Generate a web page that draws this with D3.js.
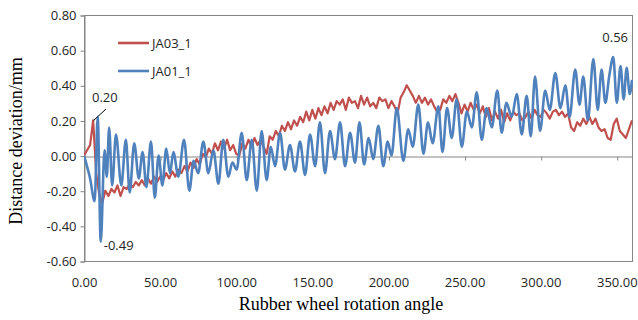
<!DOCTYPE html>
<html>
<head>
<meta charset="utf-8">
<script src="https://cdn.jsdelivr.net/npm/d3@7"></script>
<style>
  body { margin: 0; background: #fff; }
  svg { display: block; }
</style>
</head>
<body>
<script>
// angle (deg) and deviation (mm)
// JA01_1 is given at its turning points, JA03_1 every 2 degrees
const blueAngles = [
  0, 4, 7, 9, 11, 13.5, 15, 16.5, 18.5, 21, 24.5, 27.5, 30, 33, 36, 38.5, 41, 44, 46.5, 49,
  51.5, 54, 56.5, 58.7, 62, 65.7, 69.2, 72, 75, 78.4, 81.7, 85, 88.3, 91.5, 94.8, 97.5, 100.3, 103.6, 106.9, 110.2,
  113.5, 116.7, 120, 122.7, 125.5, 128.8, 132, 135.3, 138.6, 141.9, 145.2, 148.5, 151.8, 155, 158.3, 161.6, 164.9, 168.2, 171.5, 174.8,
  178, 181, 184, 187, 190, 193.4, 196.6, 199.5, 202, 205.5, 209.8, 213, 216, 219.6, 223, 226, 229, 232.8, 235.5, 238.5,
  241.6, 244.8, 248.2, 251.5, 254.8, 258, 261.3, 264.5, 267.9, 271.5, 274.4, 277.5, 281, 284.3, 287.6, 290.8, 293.5, 296.3, 299.6, 303,
  306, 309.6, 313, 316.2, 319, 322.7, 325.5, 328, 331, 334.6, 337.5, 340, 342.5, 345, 347.7, 350, 352.5, 354.5, 356.5, 358.5,
  360
];
const blueValues = [
  0.00, -0.13, -0.26, 0.22, -0.49, 0.03, -0.12, 0.16, -0.17, 0.12, -0.17, 0.09, -0.21, 0.07, -0.13, 0.02, -0.18, 0.08, -0.24, 0.00,
  -0.17, 0.04, -0.10, 0.02, -0.12, 0.09, -0.20, -0.03, -0.10, 0.08, -0.10, 0.03, -0.16, 0.09, -0.12, -0.04, -0.08, 0.13, -0.14, 0.09,
  -0.20, 0.14, -0.14, 0.05, -0.06, 0.13, -0.08, 0.06, -0.09, 0.08, -0.11, 0.12, -0.06, 0.19, -0.10, 0.14, -0.02, 0.19, -0.06, 0.13,
  -0.04, 0.19, -0.05, 0.10, -0.02, 0.17, -0.06, 0.08, 0.00, 0.27, -0.03, 0.15, 0.05, 0.29, 0.01, 0.19, 0.07, 0.28, 0.02, 0.27,
  0.10, 0.32, 0.05, 0.25, 0.16, 0.36, 0.09, 0.27, 0.16, 0.37, 0.13, 0.30, 0.22, 0.35, 0.12, 0.34, 0.11, 0.45, 0.14, 0.37,
  0.26, 0.47, 0.27, 0.40, 0.22, 0.49, 0.29, 0.45, 0.20, 0.55, 0.26, 0.49, 0.30, 0.45, 0.56, 0.30, 0.51, 0.32, 0.50, 0.35,
  0.43
];
const redAngles = [
  0, 2, 4, 6, 8, 10, 12, 14, 16, 18, 20, 22, 24, 26, 28, 30, 32, 34, 36, 38,
  40, 42, 44, 46, 48, 50, 52, 54, 56, 58, 60, 62, 64, 66, 68, 70, 72, 74, 76, 78,
  80, 82, 84, 86, 88, 90, 92, 94, 96, 98, 100, 102, 104, 106, 108, 110, 112, 114, 116, 118,
  120, 122, 124, 126, 128, 130, 132, 134, 136, 138, 140, 142, 144, 146, 148, 150, 152, 154, 156, 158,
  160, 162, 164, 166, 168, 170, 172, 174, 176, 178, 180, 182, 184, 186, 188, 190, 192, 194, 196, 198,
  200, 202, 204, 206, 208, 210, 212, 214, 216, 218, 220, 222, 224, 226, 228, 230, 232, 234, 236, 238,
  240, 242, 244, 246, 248, 250, 252, 254, 256, 258, 260, 262, 264, 266, 268, 270, 272, 274, 276, 278,
  280, 282, 284, 286, 288, 290, 292, 294, 296, 298, 300, 302, 304, 306, 308, 310, 312, 314, 316, 318,
  320, 322, 324, 326, 328, 330, 332, 334, 336, 338, 340, 342, 344, 346, 348, 350, 352, 354, 356, 358,
  360
];
const redValues = [
  0.00, 0.03, 0.06, 0.20, -0.10, -0.22, -0.27, -0.20, -0.23, -0.19, -0.21, -0.17, -0.23, -0.18, -0.19, -0.16, -0.18, -0.15, -0.17, -0.14,
  -0.17, -0.13, -0.16, -0.12, -0.15, -0.12, -0.14, -0.10, -0.13, -0.09, -0.12, -0.08, -0.10, -0.06, -0.09, -0.04, -0.07, -0.02, -0.05, 0.01,
  -0.01, 0.04, 0.01, 0.07, 0.03, 0.08, 0.04, 0.09, 0.03, 0.06, 0.01, 0.00, 0.07, 0.04, 0.09, 0.05, 0.10, 0.06, 0.09, 0.05,
  0.01, 0.11, 0.09, 0.14, 0.11, 0.17, 0.14, 0.19, 0.15, 0.20, 0.17, 0.22, 0.19, 0.25, 0.20, 0.26, 0.21, 0.27, 0.23, 0.28,
  0.24, 0.30, 0.26, 0.31, 0.29, 0.32, 0.26, 0.33, 0.30, 0.31, 0.27, 0.34, 0.29, 0.33, 0.28, 0.30, 0.27, 0.33, 0.31, 0.32,
  0.27, 0.31, 0.28, 0.24, 0.33, 0.36, 0.40, 0.37, 0.34, 0.30, 0.34, 0.30, 0.33, 0.29, 0.32, 0.28, 0.25, 0.26, 0.32, 0.30,
  0.34, 0.31, 0.35, 0.30, 0.24, 0.29, 0.25, 0.30, 0.26, 0.29, 0.24, 0.28, 0.22, 0.27, 0.20, 0.25, 0.21, 0.26, 0.19, 0.24,
  0.20, 0.25, 0.23, 0.24, 0.20, 0.22, 0.25, 0.21, 0.26, 0.23, 0.22, 0.26, 0.24, 0.21, 0.25, 0.26, 0.23, 0.25, 0.22, 0.24,
  0.16, 0.14, 0.19, 0.17, 0.21, 0.18, 0.22, 0.18, 0.21, 0.16, 0.14, 0.15, 0.10, 0.09, 0.18, 0.21, 0.14, 0.12, 0.10, 0.15,
  0.20
];
const seriesNames = ["JA03_1", "JA01_1"];
const xTicks = [0, 50, 100, 150, 200, 250, 300, 350];
const yTicks = [-0.6, -0.4, -0.2, 0, 0.2, 0.4, 0.6, 0.8];
// labelled points: [angle, value, text]
const callouts = [[6, 0.20, "0.20"], [11, -0.49, "-0.49"], [347.7, 0.56, "0.56"]];

var width = 638, height = 320;
var plotL = 84, plotR = 632, plotT = 15, plotB = 261;
var red = "#c0504d", blue = "#4f81bd", grey = "#868686";
var tickFont = "'Open Sans', sans-serif";

var svg = d3.select("body").append("svg")
    .attr("width", width)
    .attr("height", height);

var x = d3.scaleLinear().domain([0, 360]).range([plotL, plotR]);
var y = d3.scaleLinear().domain([-0.6, 0.8]).range([plotB, plotT]);
var fmt = d => d.toFixed(2);

// frame
svg.append("rect")
    .attr("x", plotL + 0.5).attr("y", plotT + 0.5)
    .attr("width", plotR - plotL).attr("height", plotB - plotT)
    .attr("fill", "none").attr("stroke", grey);

// y axis
var yAxis = svg.append("g")
    .attr("transform", "translate(" + (plotL + 0.5) + ",0.5)")
    .call(d3.axisLeft(y).tickValues(yTicks).tickFormat(fmt).tickSize(4).tickPadding(4));

// x labels sit under the frame
var xAxis = svg.append("g")
    .attr("transform", "translate(0," + (plotB + 0.5) + ")")
    .call(d3.axisBottom(x).tickValues(xTicks).tickFormat(fmt).tickSize(0).tickPadding(16));

// horizontal axis line at zero with its tick marks
var zeroAxis = svg.append("g")
    .attr("transform", "translate(0.5," + (Math.round(y(0)) + 0.5) + ")")
    .call(d3.axisBottom(x).tickValues(xTicks).tickFormat("").tickSize(4).tickSizeOuter(0));

[yAxis, xAxis, zeroAxis].forEach(function (g) {
    g.selectAll("path, line").attr("stroke", grey);
    g.selectAll("text")
        .attr("fill", "#262626")
        .style("font-family", tickFont)
        .style("font-size", "13px");
});
xAxis.select(".domain").remove();

svg.append("clipPath").attr("id", "plot")
    .append("rect")
    .attr("x", plotL).attr("y", plotT)
    .attr("width", plotR - plotL + 1).attr("height", plotB - plotT);

var redLine = d3.line()
    .x(function (d, i) { return x(redAngles[i]); })
    .y(function (d) { return y(d); });

var blueLine = d3.line()
    .x(function (d, i) { return x(blueAngles[i]); })
    .y(function (d) { return y(d); })
    .curve(d3.curveMonotoneX);

var lines = svg.append("g").attr("clip-path", "url(#plot)");
lines.append("path")
    .attr("d", redLine(redValues))
    .attr("fill", "none").attr("stroke", red)
    .attr("stroke-width", 2.2).attr("stroke-linejoin", "round");
lines.append("path")
    .attr("d", blueLine(blueValues))
    .attr("fill", "none").attr("stroke", blue)
    .attr("stroke-width", 2.6).attr("stroke-linejoin", "round");

// legend
var legend = svg.append("g");
[red, blue].forEach(function (c, i) {
    legend.append("line")
        .attr("x1", 118).attr("x2", 149)
        .attr("y1", 43 + i * 28).attr("y2", 43 + i * 28)
        .attr("stroke", c).attr("stroke-width", 2.6);
    legend.append("text")
        .attr("x", 152).attr("y", 48 + i * 28)
        .attr("fill", "#262626")
        .style("font-family", tickFont).style("font-size", "13px")
        .text(seriesNames[i]);
});

// data labels
var notes = svg.append("g")
    .attr("fill", "#262626")
    .style("font-family", tickFont).style("font-size", "13px");
notes.append("line")
    .attr("x1", x(callouts[0][0]) + 0.5).attr("y1", y(callouts[0][1]))
    .attr("x2", 106).attr("y2", 109)
    .attr("stroke", "#000").attr("stroke-width", 1);
notes.append("text")
    .attr("x", 92).attr("y", 102)
    .text(callouts[0][2]);
notes.append("text")
    .attr("x", x(callouts[1][0]) + 3).attr("y", y(callouts[1][1]) + 8)
    .text(callouts[1][2]);
notes.append("text")
    .attr("x", 628).attr("y", 42)
    .attr("text-anchor", "end")
    .text(callouts[2][2]);

// axis titles
svg.append("text")
    .attr("x", 341).attr("y", 310)
    .attr("text-anchor", "middle")
    .style("font-family", "'Liberation Serif', 'Times New Roman', serif")
    .style("font-size", "18px")
    .text("Rubber wheel rotation angle");
svg.append("text")
    .attr("transform", "translate(22,141) rotate(-90)")
    .attr("text-anchor", "middle")
    .style("font-family", "'Liberation Serif', 'Times New Roman', serif")
    .style("font-size", "18px")
    .text("Distance deviation/mm");
</script>
</body>
</html>
